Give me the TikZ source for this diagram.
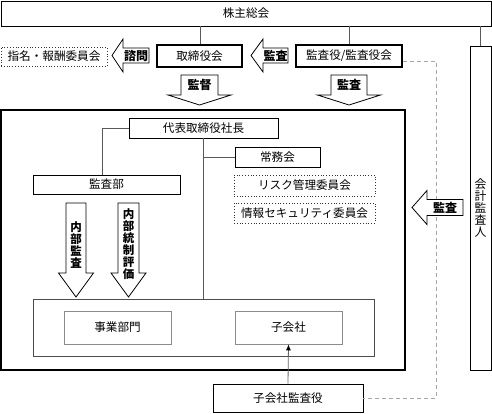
\documentclass[tikz,border=0pt]{standalone}
\usepackage{fontspec}
\setmainfont{Noto Sans CJK JP}
\usetikzlibrary{calc,arrows.meta}
\newcommand\DArr[7]{% cx, bw, hw, top, headbase, tip, style
  \draw[#7] ({#1-#2},#4) -- ({#1+#2},#4) -- ({#1+#2},#5) -- ({#1+#3},#5) -- (#1,#6) -- ({#1-#3},#5) -- ({#1-#2},#5) -- cycle;}
\newcommand\LArr[7]{% tip, headbase, right, cy, bh, hh, style
  \draw[#7] (#1,#4) -- (#2,{#4-#6}) -- (#2,{#4-#5}) -- (#3,{#4-#5}) -- (#3,{#4+#5}) -- (#2,{#4+#5}) -- (#2,{#4+#6}) -- cycle;}
\begin{document}
\begin{tikzpicture}[x=1pt,y=-1pt,
  box/.style={draw=black, line width=0.8pt, fill=white, inner sep=0pt, font=\fontsize{11.6}{13}\selectfont},
  thickbox/.style={box, line width=1.4pt},
  dotbox/.style={box, draw=black!80, dotted, line width=0.8pt},
  graybox/.style={box, draw=black!45},
  conn/.style={draw=black!65, line width=0.9pt},
  barrow/.style={draw=black, line width=0.8pt, fill=white},
  blabel/.style={inner sep=0pt, font=\fontsize{12}{12}\selectfont\bfseries},
  vlabel/.style={inner sep=0pt, align=center, font=\fontsize{11.5}{12}\selectfont\bfseries},
]
\useasboundingbox (0,0) rectangle (492,413);

% top-level boxes
\node[box, minimum width=490pt, minimum height=25pt] (kabu) at (246,13.5) {株主総会};
\node[thickbox, minimum width=85pt, minimum height=22pt] (tori) at (199.5,56) {取締役会};
\node[thickbox, minimum width=106pt, minimum height=22pt] (kansa) at (349,56) {監査役/監査役会};
\node[dotbox, minimum width=106pt, minimum height=19pt] (shimei) at (54,56.5) {指名・報酬委員会};
\node[box, minimum width=21pt, minimum height=324pt, align=center, font=\fontsize{11.8}{12}\selectfont] (kaikei) at (480.5,208) {会\\計\\監\\査\\人};

% connectors from 株主総会
\draw[conn] (kabu.south -| 200,0) -- (tori.north -| 200,0);
\draw[conn] (kabu.south -| kansa.north) -- (kansa.north);
\draw[conn] (kabu.south -| kaikei.north) -- (kaikei.north);
\draw[conn] ($(kansa.east)+(0,-4)$) -- ($(kansa.east)+(0,-4)$ -| kaikei.west);

% dashed line
\coordinate (dcorner) at (436,398);
\node[box, minimum width=150pt, minimum height=28pt] (kokansa) at (288,398) {子会社監査役};
\draw[draw=black!35, dashed, line width=0.8pt, dash pattern=on 4pt off 3pt] ($(kansa.east)+(0,5)$) -| (dcorner) -- (kokansa.east);

% big box
\node[thickbox, minimum width=404pt, minimum height=260pt] (big) at (203,240) {};
\node[box, minimum width=149pt, minimum height=20pt] (daihyo) at (203.5,128) {代表取締役社長};
\node[box, minimum width=147pt, minimum height=19pt] (kansabu) at (106.5,184.5) {監査部};
\node[box, minimum width=85pt, minimum height=20pt] (joumu) at (277.5,157) {常務会};
\node[dotbox, minimum width=141pt, minimum height=21pt] (risk) at (304.5,185.5) {リスク管理委員会};
\node[dotbox, minimum width=141pt, minimum height=20pt] (joho) at (304.5,213) {情報セキュリティ委員会};
\node[box, draw=black!70, line width=1pt, minimum width=341pt, minimum height=57pt] (inner) at (203.5,327.5) {};
\node[graybox, minimum width=107pt, minimum height=33pt] (jigyo) at (117.5,327.5) {事業部門};
\node[graybox, minimum width=107pt, minimum height=33pt] (kogai) at (288.5,327.5) {子会社};

\draw[conn] (daihyo.west) -| ($(kansabu.north)+(-4.5,0)$);
\draw[conn] (daihyo.south) -- (inner.north);
\draw[conn] (daihyo.south |- joumu.west) -- (joumu.west);
\draw[draw=black!60, line width=0.8pt, -{Latex[length=6pt,width=5pt,color=black]}] (kokansa.north) -- (kogai.south);

% block arrows
\DArr{199.5}{18.5}{31.5}{75}{95}{105}{barrow}
\node[blabel] (lkantoku) at (199.5,85) {監督};
\DArr{349}{18}{31.5}{75}{95}{105}{barrow}
\node[blabel] (lkansa2) at (349,85) {監査};
\LArr{112}{123}{149}{55.5}{7.5}{16.5}{barrow}
\node[blabel] (lshimon) at (136,55.5) {諮問};
\LArr{251}{263}{288}{55.5}{7.5}{16.5}{barrow}
\node[blabel] (lkansa1) at (275.5,55.5) {監査};
\LArr{412}{427}{463}{207.5}{8}{17}{barrow}
\node[blabel] (lkansa3) at (445,207.5) {監査};
\DArr{76}{10}{17.5}{203}{273}{297}{barrow}
\node[vlabel] (lnaibu) at (76,245) {内\\部\\監\\査};
\DArr{128.5}{10.5}{17.5}{203}{273}{297}{barrow}
\node[vlabel] (ltousei) at (128.5,244) {内\\部\\統\\制\\評\\価};
\end{tikzpicture}
\end{document}
